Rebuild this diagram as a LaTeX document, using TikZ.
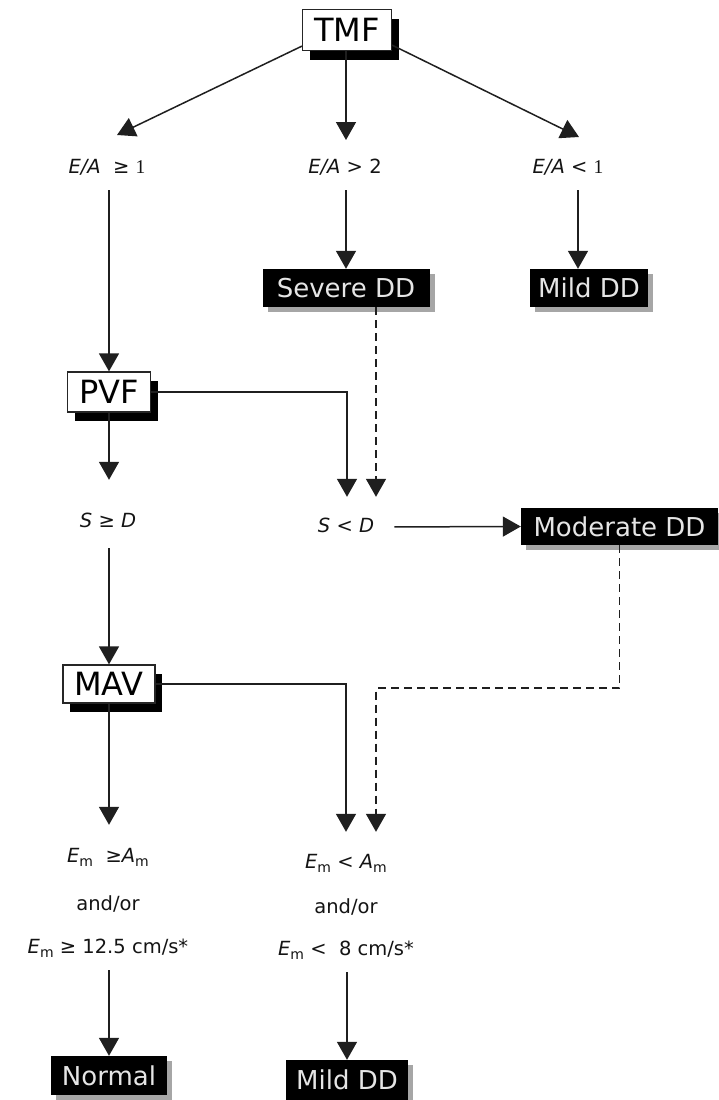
\documentclass[tikz,border=0pt]{standalone}
\usepackage{fontspec}
\setmainfont{DejaVu Sans}
\newfontfamily\serifone{Liberation Serif}
\usetikzlibrary{arrows.meta,shadows,calc}
\newcommand\msub{\raisebox{-0.4ex}{\upshape\fontsize{14}{14}\selectfont m}}
\begin{document}
\begin{tikzpicture}[x=1pt,y=-1pt,
  conn/.style={draw=black!88, line width=1.5pt},
  arr/.style={conn, -{Triangle[width=20pt,length=18pt]}},
  dsh/.style={arr, dash pattern=on 8pt off 5pt},
  wbox/.style={draw=black!85, line width=1.3pt, fill=white, inner sep=0pt,
    font=\fontsize{32}{36}\selectfont, text height=23pt, text depth=0pt,
    general shadow={fill=black, shadow xshift=7pt, shadow yshift=-9pt}},
  bbox/.style={fill=black, text=black!10, inner sep=0pt,
    font=\fontsize{26}{30}\selectfont, text height=19pt, text depth=0pt,
    general shadow={fill=black!35, shadow xshift=5pt, shadow yshift=-5pt}},
  lab/.style={text=black!92, font=\fontsize{19.5}{22}\selectfont, inner sep=0pt,
    text height=13pt, text depth=3pt}
]
\useasboundingbox (0,0) rectangle (718,1100);

% nodes
\node[wbox, minimum width=89pt, minimum height=41pt] (tmf) at (347,30) {TMF};
\node[lab] (ea1) at (107,168) {\itshape E/A\ \ ≥ {\serifone\upshape 1}};
\node[lab] (ea2) at (345,168) {\itshape E/A \upshape > 2};
\node[lab] (ea3) at (568,168) {\itshape E/A \upshape < {\serifone 1}};
\node[bbox, minimum width=167pt, minimum height=38pt] (sev) at (346,288) {Severe DD};
\node[bbox, minimum width=118pt, minimum height=38pt] (mild1) at (589,288) {Mild DD};
\node[wbox, minimum width=83pt, minimum height=40pt] (pvf) at (109,392) {PVF};
\node[lab] (sgd) at (108,522) {\itshape S \upshape ≥ \itshape D};
\node[lab] (sld) at (346,527) {\itshape S\ \upshape <\ \itshape D};
\node[bbox, minimum width=197pt, minimum height=37pt] (mod) at (619.5,526.5) {Moderate DD};
\node[wbox, minimum width=92pt, minimum height=38pt] (mav) at (109,684) {MAV};
\node[lab] (em1) at (108,857) {\itshape E\msub\ \ \upshape ≥\itshape A\msub};
\node[lab] (ao1) at (108,905) {and/or};
\node[lab] (em3) at (108,948) {\itshape E\msub\ \upshape ≥ 12.5 cm/s*};
\node[lab] (em2) at (346,863) {\itshape E\msub\ \upshape <\ \itshape A\msub};
\node[lab] (ao2) at (346,908) {and/or};
\node[lab] (em4) at (346,950) {\itshape E\msub\ \upshape <\ \ 8 cm/s*};
\node[bbox, minimum width=116pt, minimum height=39pt] (norm) at (109,1075.5) {Normal};
\node[bbox, minimum width=122pt, minimum height=40pt] (mild2) at (347,1080) {Mild DD};

% arrow tip points / columns
\coordinate (t1) at (117,135);
\coordinate (t2) at (346,140);
\coordinate (t3) at (579,137);
\coordinate (m1x) at (578,0);

% connectors
\draw[arr] ($(tmf.south west)+(0,-5)$) -- (t1);
\draw[arr] (tmf.south -| t2) -- (t2);
\draw[arr] ($(tmf.south east)+(0,-6)$) -- (t3);
\draw[arr, shorten <=14pt] (ea1.south -| pvf.north) -- (pvf.north);
\draw[arr, shorten <=14pt] (ea2.south -| sev.north) -- (sev.north);
\draw[arr, shorten <=14pt] (ea3.south -| m1x) -- (mild1.north -| m1x);
\draw[arr, shorten >=34pt] (pvf.south) -- (sgd.north -| pvf.south);
\draw[arr, shorten >=22pt] (pvf.east) -| ([xshift=1pt]sld.north);
\draw[dsh, shorten >=22pt] ([xshift=30pt]sev.south) -- ([xshift=30pt]sld.north);
\draw[arr, shorten <=20pt] (sld.east) -- (mod.west);
\draw[arr, shorten <=18pt] (sgd.south -| mav.north) -- (mav.north);
\draw[arr, shorten >=24pt] (mav.south) -- (em1.north -| mav.south);
\draw[arr, shorten >=23pt] (mav.east) -| (em2.north);
\draw[dsh, shorten >=23pt] (mod.south) -- ++(0,143) -| ([xshift=30pt]em2.north);
\draw[arr, shorten <=14pt] (em3.south -| norm.north) -- (norm.north);
\draw[arr, shorten <=14pt] (em4.south -| mild2.north) -- (mild2.north);
\end{tikzpicture}
\end{document}
